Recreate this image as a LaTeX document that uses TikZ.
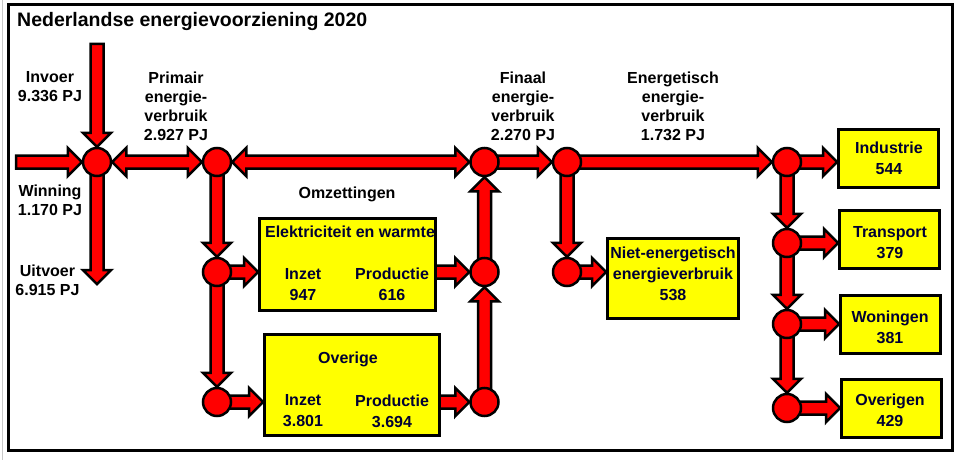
\documentclass[tikz,border=0pt]{standalone}
\usepackage{fontspec}
\setmainfont{Liberation Sans}
\pgfdeclarelayer{flows}
\pgfsetlayers{flows,main}

\def\fw{6.5}   % half width of the shaft
\def\fH{14.2}  % half width of the head
\def\fh{14}    % length of the head

\newcommand\flowpts[2]{%
	\path (#1) -- (#2) coordinate[pos=0] (fs) coordinate[pos=1] (fe);
	\pgfpointdiff{\pgfpointanchor{fs}{center}}{\pgfpointanchor{fe}{center}}%
	\pgfgetlastxy\flowdx\flowdy
	\pgfmathsetmacro\flowlen{veclen(\flowdx,\flowdy)}%
	\pgfmathsetmacro\flowang{atan2(\flowdy,\flowdx)}%
}
\newcommand\flow[3][6]{%
	\flowpts{#2}{#3}%
	\begin{scope}[shift={(fs)},rotate=\flowang]
		\draw[flowline] (-#1,-\fw) -- (\flowlen-\fh,-\fw) -- (\flowlen-\fh,-\fH) -- (\flowlen,0)
			-- (\flowlen-\fh,\fH) -- (\flowlen-\fh,\fw) -- (-#1,\fw) -- cycle;
	\end{scope}}
\newcommand\flowtwo[2]{%
	\flowpts{#1}{#2}%
	\begin{scope}[shift={(fs)},rotate=\flowang]
		\draw[flowline] (0,0) -- (\fh,-\fH) -- (\fh,-\fw) -- (\flowlen-\fh,-\fw) -- (\flowlen-\fh,-\fH) -- (\flowlen,0)
			-- (\flowlen-\fh,\fH) -- (\flowlen-\fh,\fw) -- (\fh,\fw) -- (\fh,\fH) -- cycle;
	\end{scope}}

\begin{document}
\begin{tikzpicture}[x=1pt,y=-1pt,
	knot/.style={circle,draw=black,fill=custred,line width=2.5pt,minimum size=28pt,inner sep=0pt},
	bin/.style={rectangle,draw=black,fill=custyellow,line width=3pt,inner sep=0pt},
	sector/.style={bin,minimum width=100pt,minimum height=58pt},
	lab/.style={inner sep=0pt,align=center,font=\bfseries\fontsize{16pt}{19pt}\selectfont},
	bintext/.style={lab,text=custnavy,font=\bfseries\fontsize{16pt}{21pt}\selectfont},
	flowline/.style={draw=black,fill=custred,line width=2.5pt,line join=miter}]
	\definecolor{custred}{RGB}{255, 0, 0}
	\definecolor{custyellow}{RGB}{255, 255, 0}
	\definecolor{custnavy}{RGB}{0, 0, 51}
	\definecolor{custgray}{RGB}{200, 200, 200}
	\useasboundingbox (0,0) rectangle (960,460);

	% knots
	\node[knot] (A) at (97,162) {};
	\node[knot] (B) at (217,162) {};
	\node[knot] (F) at (484.5,162) {};
	\node[knot] (G) at (567,162) {};
	\node[knot] (H) at (787,162) {};
	\node[knot] (C) at (217,272) {};
	\node[knot] (D) at (217,402) {};
	\node[knot] (E1) at (484.5,272) {};
	\node[knot] (E2) at (484.5,402) {};
	\node[knot] (N) at (567,272) {};
	\node[knot] (I2) at (787,243) {};
	\node[knot] (I3) at (787,324) {};
	\node[knot] (I4) at (787,408) {};

	% boxes
	\node[bin,minimum width=176pt,minimum height=92pt] (elek) at (347.5,264.5) {};
	\node[bin,minimum width=175pt,minimum height=101pt] (ovg) at (352,385) {};
	\node[bin,minimum width=131pt,minimum height=80pt] (niet) at (673,278.5) {};
	\node[sector] (ind) at (888.5,158.5) {};
	\node[sector] (trans) at (889.5,239.5) {};
	\node[sector] (won) at (890.5,324) {};
	\node[sector] (ovr) at (891.5,408) {};

	\node[bintext,anchor=base] (elekT) at (350,237.5) {Elektriciteit en warmte};
	\node[bintext] (elekIn) at (303,284.5) {Inzet\\947};
	\node[bintext] (elekUit) at (392,284.5) {Productie\\616};
	\node[bintext,anchor=base] (ovgT) at (348,363.3) {Overige};
	\node[bintext] (ovgIn) at (303,411) {Inzet\\3.801};
	\node[bintext] (ovgUit) at (392,411) {Productie\\3.694};
	\node[bintext] (nietT) at (673,274) {Niet-energetisch\\energieverbruik\\538};
	\node[bintext] (indT) at (889,158.5) {Industrie\\544};
	\node[bintext] (transT) at (890,243) {Transport\\379};
	\node[bintext] (wonT) at (890,327) {Woningen\\381};
	\node[bintext] (ovrT) at (890,410.5) {Overigen\\429};

	% labels
	\node[lab,anchor=base west,font=\bfseries\fontsize{19.5pt}{22pt}\selectfont] (title) at (17,27) {Nederlandse energievoorziening 2020};
	\node[lab] (invoer) at (50,87) {Invoer\\9.336 PJ};
	\node[lab] (winning) at (50,200) {Winning\\1.170 PJ};
	\node[lab] (uitvoer) at (47.5,280) {Uitvoer\\6.915 PJ};
	\node[lab] (primair) at (176,106) {Primair\\energie-\\verbruik\\2.927 PJ};
	\node[lab] (finaal) at (523,106) {Finaal\\energie-\\verbruik\\2.270 PJ};
	\node[lab] (energetisch) at (673,106) {Energetisch\\energie-\\verbruik\\1.732 PJ};
	\node[lab,anchor=base] (omzet) at (347,198) {Omzettingen};

	% flows
	\begin{pgfonlayer}{flows}
		\fill[white] (0,0) rectangle (960,460);
		\coordinate (inv) at (97,44);
		\coordinate (win) at (16,162);
		\coordinate (uit) at (97,284);
		\flow[0]{inv}{A}
		\flow[0]{win}{A}
		\flow{A}{uit}
		\flowtwo{A}{B}
		\flowtwo{B}{F}
		\flow{B}{C}
		\flow{C}{D}
		\flow{C}{C -| elek.west}
		\flow{D}{D -| ovg.west}
		\flow{E1 -| elek.east}{E1}
		\flow{E2 -| ovg.east}{E2}
		\flow{E2}{E1}
		\flow{E1}{F}
		\flow{F}{G}
		\flow{G}{H}
		\flow{G}{N}
		\flow{N}{N -| niet.west}
		\flow{H}{H -| ind.west}
		\flow{H}{I2}
		\flow{I2}{I2 -| trans.west}
		\flow{I2}{I3}
		\flow{I3}{I3 -| won.west}
		\flow{I3}{I4}
		\flow{I4}{I4 -| ovr.west}
	\end{pgfonlayer}

	% frame
	\draw[line width=3pt] (8.5,5) rectangle (952.5,450);
	\draw[custgray,line width=1pt] (2,0) -- (2,460);
\end{tikzpicture}
\end{document}
